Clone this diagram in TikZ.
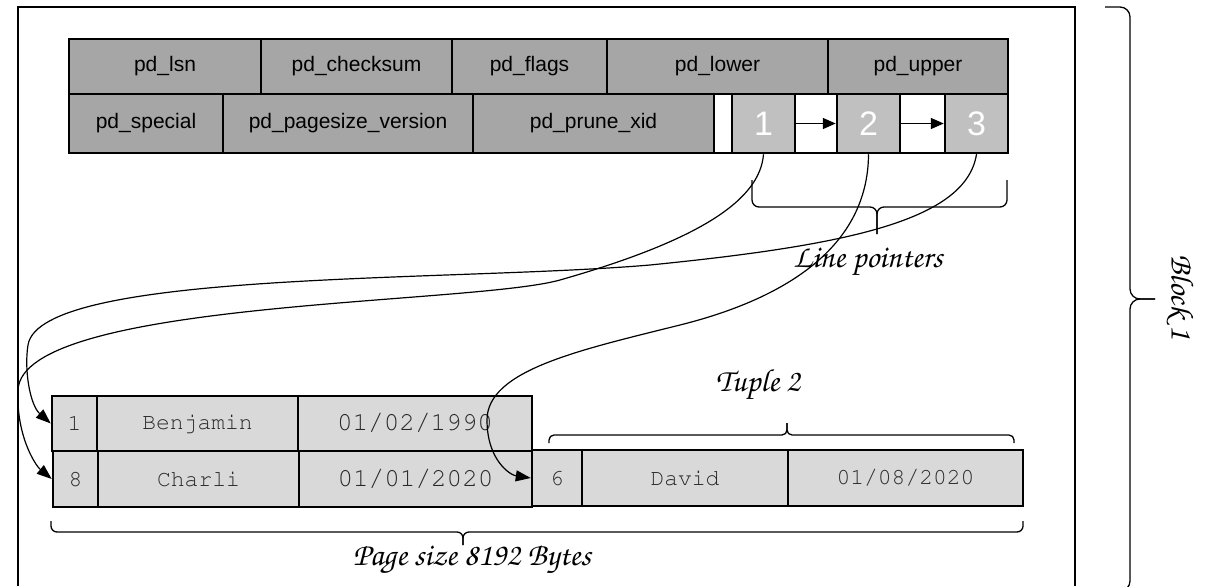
\documentclass[tikz,border=0pt]{standalone}
\usepackage[T1]{fontenc}
\usepackage{fontspec}
\setmainfont{Liberation Sans}
\setmonofont{Liberation Mono}
\usetikzlibrary{arrows.meta}
\newcommand{\handfont}{\fontencoding{T1}\fontfamily{pzc}\fontseries{mb}\fontshape{it}\selectfont}
\newcommand{\typefont}{\fontencoding{T1}\fontfamily{pcr}\fontseries{m}\fontshape{n}\selectfont}
\definecolor{hdrgray}{RGB}{166, 166, 166}
\definecolor{ptrgray}{RGB}{192, 192, 192}
\definecolor{tupgray}{RGB}{217, 217, 217}
\definecolor{tuptext}{RGB}{40, 40, 40}
\tikzset{
    cell/.style={rectangle, draw=black, line width=2.5pt, inner sep=0pt, align=center},
    hdr/.style={cell, fill=hdrgray, font=\fontsize{21}{25}\selectfont},
    ptr/.style={cell, fill=ptrgray, text=white, font=\fontsize{34}{36}\selectfont, minimum height=59pt},
    gapcell/.style={cell, fill=white, minimum height=59pt},
    tup/.style={cell, fill=tupgray, text=tuptext, font=\fontsize{23}{27}\typefont},
    tupdate/.style={tup, font=\fontsize{26}{30}\typefont},
    hand/.style={font=\fontsize{32}{36}\handfont},
    ptrarr/.style={-{Triangle[length=15pt, width=11pt]}, line width=1.2pt},
    nextarr/.style={-{Triangle[length=13pt, width=11pt]}, line width=1.5pt},
    curly/.style={line width=1.3pt, rounded corners=7pt}
}
\begin{document}
\begin{tikzpicture}[x=1pt, y=-1pt]
    \useasboundingbox (0,0) rectangle (1214,586);
    % block frame, open at the bottom
    \draw[line width=1.6pt] (18,586) -- (18,7) -- (1075,7) -- (1075,586);

    % page header
    \node[hdr, minimum width=192pt, minimum height=55pt] (lsn) at (165,66.5) {pd\_lsn};
    \node[hdr, minimum width=191pt, minimum height=55pt] (chk) at (356.5,66.5) {pd\_checksum};
    \node[hdr, minimum width=155pt, minimum height=55pt] (flg) at (529.5,66.5) {pd\_flags};
    \node[hdr, minimum width=221pt, minimum height=55pt] (low) at (717.5,66.5) {pd\_lower};
    \node[hdr, minimum width=180pt, minimum height=55pt] (upp) at (918,66.5) {pd\_upper};

    \node[hdr, minimum width=154pt, minimum height=59pt] (spc) at (146,123.5) {pd\_special};
    \node[hdr, minimum width=250pt, minimum height=59pt] (psv) at (348,123.5) {pd\_pagesize\_version};
    \node[hdr, minimum width=241pt, minimum height=59pt] (prx) at (593.5,123.5) {pd\_prune\_xid};
    \node[gapcell, minimum width=18pt] (gap) at (723,123.5) {};
    \node[ptr, minimum width=63pt] (p1) at (763.5,123.5) {1};
    \node[gapcell, minimum width=42pt] (a1) at (816,123.5) {};
    \node[ptr, minimum width=63pt] (p2) at (868.5,123.5) {2};
    \node[gapcell, minimum width=45pt] (a2) at (922.5,123.5) {};
    \node[ptr, minimum width=63pt] (p3) at (976.5,123.5) {3};

    \draw[nextarr] (a1.west) -- (p2.west);
    \draw[nextarr] (a2.west) -- (p3.west);

    % line pointers brace
    \draw[curly] (752,180) -- (752,207) -- (877,207) -- (877,234);
    \draw[curly] (1007,180) -- (1007,207) -- (877,207) -- (877,234);
    \node[hand] (lptxt) at (868,263) {Line pointers};

    % tuples
    \node[tup, minimum width=45pt, minimum height=55pt] (t1id) at (74.5,423.5) {1};
    \node[tup, minimum width=201pt, minimum height=55pt] (t1name) at (197.5,423.5) {Benjamin};
    \node[tupdate, minimum width=234pt, minimum height=55pt] (t1date) at (415,423.5) {01/02/1990};

    \node[tup, minimum width=45pt, minimum height=56pt] (t2id) at (75.5,479) {8};
    \node[tup, minimum width=201pt, minimum height=56pt] (t2name) at (198.5,479) {Charli};
    \node[tupdate, minimum width=233pt, minimum height=56pt] (t2date) at (415.5,479) {01/01/2020};

    \node[tup, minimum width=50pt, minimum height=56pt] (t3id) at (557,478) {6};
    \node[tup, minimum width=206pt, minimum height=56pt] (t3name) at (685,478) {David};
    \node[tup, minimum width=235pt, minimum height=56pt] (t3date) at (905.5,478) {01/08/2020};

    % pointers into the tuples
    \draw[ptrarr] (p3.south) .. controls (966,220) and (850,245) .. (650,265)
        .. controls (450,282) and (40,270) .. (28,345)
        .. controls (24,370) and (30,405) .. (t1id.west);
    \draw[ptrarr] (p1.south) .. controls (760,200) and (700,240) .. (560,280)
        .. controls (470,305) and (22,300) .. (18,390)
        .. controls (16,435) and (35,465) .. (t2id.west);
    \draw[ptrarr] (p2.south) .. controls (868,250) and (780,300) .. (680,325)
        .. controls (580,350) and (487,370) .. (487,420)
        .. controls (487,460) and (510,475) .. (t3id.west);

    % tuple 2 brace
    \draw[curly, rounded corners=5pt] (549,443) -- (549,435) -- (787,435) -- (787,423);
    \draw[curly, rounded corners=5pt] (1014,443) -- (1014,435) -- (787,435) -- (787,423);
    \node[hand] (tuptxt) at (758,385) {Tuple 2};

    % page size brace
    \draw[curly, rounded corners=6pt] (51,521) -- (51,532) -- (463,532) -- (463,545);
    \draw[curly, rounded corners=6pt] (1023,521) -- (1023,532) -- (463,532) -- (463,545);
    \node[hand] (pgtxt) at (472,560) {Page size 8192 Bytes};

    % block brace
    \draw[curly, rounded corners=10pt] (1105,7) -- (1130,7) -- (1130,299) -- (1155,299);
    \draw[curly, rounded corners=10pt] (1105,591) -- (1130,591) -- (1130,299) -- (1155,299);
    \node[hand, rotate=-90] (blktxt) at (1180,297) {Block 1};
\end{tikzpicture}
\end{document}
